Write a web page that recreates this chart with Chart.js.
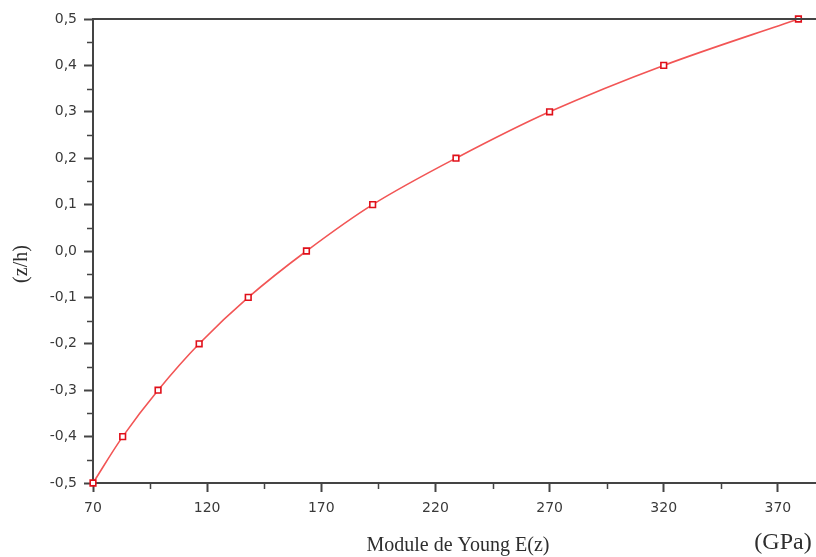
<!DOCTYPE html>
<html>
<head>
<meta charset="utf-8">
<script src="https://cdn.jsdelivr.net/npm/chart.js@4"></script>
<style>
  html, body { margin: 0; padding: 0; background: #fff; }
  #wrap { width: 816px; height: 557px; position: relative; }
</style>
</head>
<body>
<div id="wrap"><canvas id="c"></canvas></div>
<script>
/* ── Data ─────────────────────────────── */
const youngModulus = [70, 83, 98.5, 116.5, 138, 163.5, 192.5, 229, 270, 320, 379];
const zOverH       = [-0.5, -0.4, -0.3, -0.2, -0.1, 0.0, 0.1, 0.2, 0.3, 0.4, 0.5];
const xTicks       = [70, 120, 170, 220, 270, 320, 370];
const xMinorTicks  = [95, 145, 195, 245, 295, 345];
const yTicks       = [-0.5, -0.4, -0.3, -0.2, -0.1, 0.0, 0.1, 0.2, 0.3, 0.4, 0.5];
const yMinorTicks  = [-0.45, -0.35, -0.25, -0.15, -0.05, 0.05, 0.15, 0.25, 0.35, 0.45];

const axisColor = '#444';
const tickFont  = { family: 'DejaVu Sans', size: 14 };

/* ── Minor ticks, top frame line, axis titles ── */
const decor = {
  id: 'decor',
  afterDraw(chart) {
    const { ctx, chartArea: a, scales: { x, y } } = chart;
    ctx.save();
    ctx.strokeStyle = axisColor;
    ctx.lineWidth = 2;
    ctx.beginPath();
    ctx.moveTo(a.left, a.top);
    ctx.lineTo(a.right, a.top);
    ctx.stroke();

    ctx.lineWidth = 1.5;
    ctx.beginPath();
    yMinorTicks.forEach(v => {
      const py = Math.round(y.getPixelForValue(v)) + 0.5;
      ctx.moveTo(a.left - 6, py);
      ctx.lineTo(a.left, py);
    });
    xMinorTicks.forEach(v => {
      const px = Math.round(x.getPixelForValue(v)) + 0.5;
      ctx.moveTo(px, a.bottom);
      ctx.lineTo(px, a.bottom + 6);
    });
    ctx.stroke();

    ctx.fillStyle = '#2e2e2e';
    ctx.font = '20px "Liberation Serif"';
    ctx.textAlign = 'center';
    ctx.textBaseline = 'middle';
    ctx.fillText('Module de Young E(z)', 458, 546);
    ctx.font = '24px "Liberation Serif"';
    ctx.fillText('(GPa)', 783, 543);

    ctx.font = '20px "Liberation Serif"';
    ctx.translate(22, 264);
    ctx.rotate(-Math.PI / 2);
    ctx.fillText('(z/h)', 0, 0);
    ctx.restore();
  }
};

new Chart(document.getElementById('c'), {
  type: 'scatter',
  data: {
    datasets: [{
      data: youngModulus.map((e, i) => ({ x: e, y: zOverH[i] })),
      showLine: true,
      borderColor: '#f25555',
      borderWidth: 1.6,
      tension: 0.35,
      pointStyle: 'rect',
      pointRadius: 4,
      pointBorderWidth: 1.6,
      pointBorderColor: '#e0101a',
      pointBackgroundColor: '#fff',
      clip: false
    }]
  },
  options: {
    responsive: true,
    maintainAspectRatio: false,
    animation: false,
    layout: { autoPadding: false, padding: { top: 19, right: 0, left: 0, bottom: 0 } },
    plugins: { legend: { display: false }, tooltip: { enabled: false } },
    scales: {
      x: {
        type: 'linear',
        min: 70,
        max: 386.7,
        afterBuildTicks: s => { s.ticks = xTicks.map(v => ({ value: v })); },
        afterFit: s => { s.height = 74; },
        ticks: { font: tickFont, color: '#3a3a3a', padding: 8, maxRotation: 0, autoSkip: false },
        grid: { drawOnChartArea: false, tickLength: 9, tickWidth: 2, tickColor: axisColor },
        border: { color: axisColor, width: 2 }
      },
      y: {
        type: 'linear',
        min: -0.5,
        max: 0.5,
        afterBuildTicks: s => { s.ticks = yTicks.map(v => ({ value: v })); },
        afterFit: s => { s.width = 93; },
        ticks: {
          font: tickFont, color: '#3a3a3a', padding: 7, autoSkip: false,
          callback: v => Number(v).toFixed(1).replace('.', ',')
        },
        grid: { drawOnChartArea: false, tickLength: 9, tickWidth: 2, tickColor: axisColor },
        border: { color: axisColor, width: 2 }
      }
    }
  },
  plugins: [decor]
});
</script>
</body>
</html>
